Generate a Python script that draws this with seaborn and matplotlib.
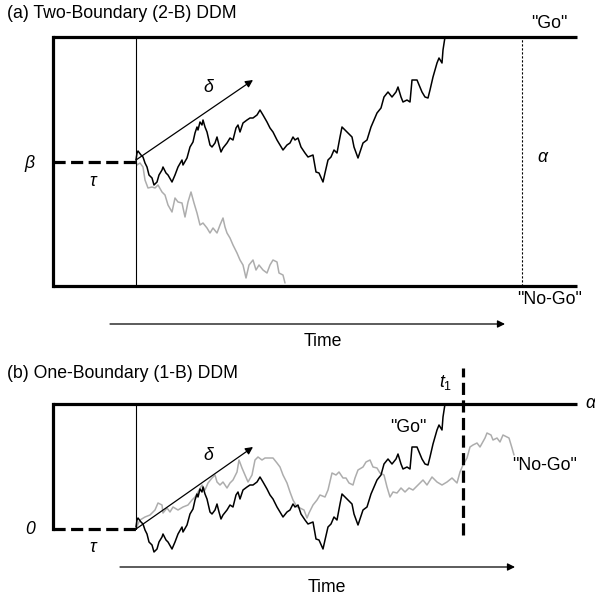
import matplotlib
matplotlib.use("Agg")
import matplotlib.pyplot as plt
import numpy as np
import pandas as pd
import seaborn as sns

sns.set_theme(style="white")
plt.rcParams["font.family"] = ["Liberation Sans", "DejaVu Sans"]
plt.rcParams["text.color"] = "black"
plt.rcParams["mathtext.fontset"] = "custom"
plt.rcParams["mathtext.rm"] = "Liberation Sans"
plt.rcParams["mathtext.it"] = "Liberation Sans:italic"

# ---------------- data (time, evidence) ----------------
go_time = [0, 1, 2, 5, 7, 9, 11, 13, 16, 18, 21, 23, 26, 27, 30, 32, 36, 39, 42, 46, 47, 51,
           54, 57, 59, 61, 62, 64, 66, 67, 69, 71, 74, 76, 79, 81, 83, 85, 87, 91, 94, 97,
           100, 102, 104, 107, 111, 114, 117, 121, 124, 127, 131, 134, 137, 141, 144, 147,
           151, 154, 157, 159, 162, 165, 169, 172, 177, 180, 183, 187, 189, 192, 195, 198,
           201, 204, 206, 209, 212, 216, 218, 222, 224, 227, 231, 235, 238, 241, 245, 248,
           252, 256, 260, 262, 265, 267, 271, 274, 276, 281, 286, 289, 292, 294, 297, 301,
           303, 306, 307, 309]
go_evidence = [2, 9, 11, 7, 5, -1, -5, -13, -16, -23, -20, -13, -8, -5, -11, -13, -20, -13, -5,
               2, -3, 4, 15, 20, 29, 35, 32, 40, 37, 42, 35, 30, 17, 15, 19, 25, 17, 10, 14,
               19, 24, 22, 34, 37, 30, 39, 42, 44, 44, 47, 52, 47, 40, 34, 30, 22, 17, 12, 17,
               19, 25, 22, 24, 15, 9, 5, 7, -10, -11, -20, -11, 2, 5, 12, 9, 25, 35, 32, 29,
               25, 15, 4, 10, 19, 22, 35, 42, 49, 54, 65, 70, 65, 70, 75, 65, 60, 62, 60, 82,
               82, 70, 65, 64, 72, 85, 99, 104, 99, 112, 125]

nogo_a_time = [0, 1, 4, 7, 9, 12, 16, 19, 22, 26, 29, 32, 36, 39, 42, 46, 49, 52, 55, 58, 61,
               64, 67, 71, 74, 77, 81, 84, 87, 89, 91, 94, 97, 101, 104, 107, 110, 113, 117,
               120, 123, 127, 131, 134, 137, 141, 143, 147, 149]
nogo_a_evidence = [0, -3, -1, -5, -18, -26, -25, -26, -23, -30, -33, -43, -50, -36, -40, -41,
                   -55, -40, -30, -41, -51, -63, -61, -66, -71, -66, -71, -63, -56, -65, -71,
                   -76, -83, -91, -98, -103, -116, -103, -98, -108, -103, -108, -111, -103,
                   -98, -100, -111, -113, -121]

nogo_b_time = [0, 2, 4, 9, 14, 19, 22, 26, 27, 31, 34, 37, 42, 47, 52, 56, 59, 62, 66, 69, 72,
               76, 79, 81, 84, 87, 91, 94, 97, 101, 103, 106, 109, 112, 116, 119, 122, 126,
               129, 134, 137, 141, 144, 147, 151, 154, 157, 161, 164, 168, 171, 173, 177, 181,
               184, 189, 192, 196, 200, 203, 207, 210, 213, 217, 219, 222, 227, 230, 234, 237,
               241, 244, 248, 251, 254, 257, 261, 265, 269, 273, 277, 282, 287, 291, 296, 301,
               306, 311, 316, 321, 324, 327, 331, 334, 337, 341, 344, 349, 351, 355, 357, 361,
               364, 367, 371, 373, 376, 378]
nogo_b_evidence = [0, 5, 9, 12, 14, 19, 26, 24, 16, 21, 17, 22, 19, 22, 24, 29, 32, 37, 44, 39,
                   46, 51, 54, 47, 44, 47, 41, 46, 49, 57, 69, 61, 54, 47, 54, 69, 72, 69, 71,
                   71, 71, 66, 62, 54, 46, 37, 29, 22, 21, 19, 11, 16, 24, 29, 34, 32, 39, 56,
                   54, 57, 51, 51, 46, 44, 51, 59, 62, 67, 69, 62, 61, 56, 54, 42, 32, 37, 36,
                   41, 37, 41, 39, 44, 49, 44, 52, 47, 44, 47, 51, 46, 57, 64, 71, 82, 84, 86,
                   82, 91, 96, 94, 89, 91, 87, 94, 92, 91, 81, 74]

panel_titles = ["(a) Two-Boundary (2-B) DDM", "(b) One-Boundary (1-B) DDM"]
upper_bound = 125
lower_bound_a = -124
nondecision_start = -83
bound_end = 441
deadline_b = 327
time_label = "Time"

# ---------------- figure ----------------
W, H = 595, 600
fig = plt.figure(figsize=(W / 100, H / 100), dpi=100)
top_h = 355
ax_a = fig.add_axes([0, 1 - top_h / H, 1, top_h / H])
ax_b = fig.add_axes([0, 0, 1, (H - top_h) / H])
ax_a.set_xlim(-136, W - 136)
ax_a.set_ylim(162 - top_h, 162)
ax_b.set_xlim(-136, W - 136)
ax_b.set_ylim(529 - H, 529 - top_h)
for ax in (ax_a, ax_b):
    ax.axis("off")
    ax.patch.set_alpha(0)

FS = 12.7
thick = 2.3
gray = "#adadad"
arrow_kw = dict(arrowstyle="-|>", lw=0.9, color="black", mutation_scale=11,
                shrinkA=0, shrinkB=0)


def path(ax, t, e, color):
    df = pd.DataFrame({"time": t, "evidence": e})
    sns.lineplot(data=df, x="time", y="evidence", sort=False, estimator=None,
                 color=color, lw=1.1, ax=ax, clip_on=False)


# ---- panel (a) ----
ax = ax_a
path(ax, nogo_a_time, nogo_a_evidence, gray)
path(ax, go_time, go_evidence, "black")
ax.plot([nondecision_start, bound_end], [upper_bound, upper_bound], color="black", lw=thick,
        solid_capstyle="butt")
ax.plot([nondecision_start, bound_end], [lower_bound_a, lower_bound_a], color="black", lw=thick,
        solid_capstyle="butt")
ax.plot([nondecision_start, nondecision_start], [lower_bound_a, upper_bound], color="black",
        lw=thick, solid_capstyle="projecting")
ax.plot([0, 0], [lower_bound_a, upper_bound], color="black", lw=0.8)
ax.plot([386, 386], [lower_bound_a, upper_bound], color="black", lw=0.8, ls=(0, (2, 1.6)))
ax.plot([nondecision_start, 0], [0, 0], color="black", lw=thick, ls=(0, (3.8, 1.7)))
ax.annotate("", xy=(117, 82), xytext=(0, 2), arrowprops=arrow_kw)
ax.annotate("", xy=(369, -162), xytext=(-26, -162), arrowprops=arrow_kw)
ax.text(-129, 148, panel_titles[0], fontsize=FS, ha="left", va="center")
ax.text(-106, -2, "β", fontsize=FS, style="italic", ha="center", va="center")
ax.text(-43, -20, "τ", fontsize=FS, style="italic", ha="center", va="center")
ax.text(72, 74, "δ", fontsize=FS, style="italic", ha="center", va="center")
ax.text(406, 5, "α", fontsize=FS, style="italic", ha="center", va="center")
ax.text(413, 139, '"Go"', fontsize=FS, ha="center", va="center")
ax.text(414, -137, '"No-Go"', fontsize=FS, ha="center", va="center")
ax.text(187, -180, time_label, fontsize=FS, ha="center", va="center")

# ---- panel (b) ----
ax = ax_b
path(ax, nogo_b_time, nogo_b_evidence, gray)
path(ax, go_time, go_evidence, "black")
ax.plot([nondecision_start, bound_end], [upper_bound, upper_bound], color="black", lw=thick,
        solid_capstyle="butt")
ax.plot([nondecision_start, nondecision_start], [0, upper_bound], color="black",
        lw=thick, solid_capstyle="projecting")
ax.plot([0, 0], [0, upper_bound], color="black", lw=0.8)
ax.plot([nondecision_start, 0], [0, 0], color="black", lw=thick, ls=(0, (3.8, 1.7)))
ax.plot([deadline_b, deadline_b], [-6, 161], color="black", lw=thick, ls=(0, (3.8, 1.7)))
ax.annotate("", xy=(117, 82), xytext=(0, 0), arrowprops=arrow_kw)
ax.annotate("", xy=(379, -38), xytext=(-16, -38), arrowprops=arrow_kw)
ax.text(-129, 156, panel_titles[1], fontsize=FS, ha="left", va="center")
ax.text(-106, -1, "0", fontsize=FS, style="italic", ha="center", va="center")
ax.text(-43, -18, "τ", fontsize=FS, style="italic", ha="center", va="center")
ax.text(72, 74, "δ", fontsize=FS, style="italic", ha="center", va="center")
ax.text(449, 125, "α", fontsize=FS, style="italic", ha="left", va="center")
ax.text(310, 147, r"$t_{\mathit{1}}$", fontsize=FS, ha="center", va="center")
ax.text(272, 102, '"Go"', fontsize=FS, ha="center", va="center")
ax.text(409, 64, '"No-Go"', fontsize=FS, ha="center", va="center")
ax.text(191, -59, time_label, fontsize=FS, ha="center", va="center")

fig.savefig("out.png", dpi=100)
